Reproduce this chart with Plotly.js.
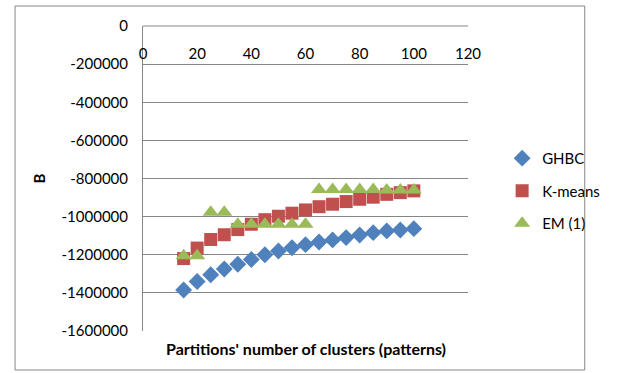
<!DOCTYPE html>
<html>
<head>
<meta charset="utf-8">
<script src="https://cdn.plot.ly/plotly-3.0.1.min.js"></script>
<style>
  html, body { margin: 0; padding: 0; background: #ffffff; }
  #chart { width: 617px; height: 373px; }
</style>
</head>
<body>
<div id="chart"></div>
<script>
// Number of clusters in each partition
const clusters = [15, 20, 25, 30, 35, 40, 45, 50, 55, 60, 65, 70, 75, 80, 85, 90, 95, 100];

// B index per method
const ghbc = [-1385000, -1340000, -1305000, -1275000, -1250000, -1225000, -1200000, -1180000, -1163000,
              -1147000, -1133000, -1122000, -1110000, -1096000, -1084000, -1075000, -1070000, -1063000];
const kmeans = [-1220000, -1165000, -1120000, -1095000, -1068000, -1040000, -1016000, -998000, -982000,
                -965000, -948000, -935000, -921000, -909000, -898000, -883000, -874000, -865000];
const em1 = [-1205000, -1205000, -977000, -977000, -1040000, -1040000, -1040000, -1040000, -1040000,
             -1040000, -858000, -858000, -858000, -858000, -858000, -860000, -860000, -860000];

const seriesNames = ['GHBC', 'K-means', 'EM (1)'];

// Axis ticks
const xTicks = [0, 20, 40, 60, 80, 100, 120];
const yTicks = [0, -200000, -400000, -600000, -800000, -1000000, -1200000, -1400000, -1600000];
const yTickText = yTicks.map(v => String(v));

const FONT = 'Lato, "Open Sans", "Liberation Sans", sans-serif';
const TICK_FONT = { family: FONT, size: 15, color: '#000000' };
const LINE_GREY = '#868686';

function series(name, ys, symbol, color, size, group) {
  return {
    type: 'scatter', mode: 'markers', name: name, x: clusters, y: ys,
    legendgroup: group,
    marker: { symbol: symbol, color: color, size: size, line: { width: 0 } },
    cliponaxis: false
  };
}

const data = [
  series(seriesNames[0], ghbc, 'diamond', '#4F81BD', 13, 'a'),
  series(seriesNames[1], kmeans, 'square', '#C0504D', 13, 'b'),
  series(seriesNames[2], em1, 'triangle-up', '#9BBB59', 14, 'c'),
  // invisible point that keeps the label-only x axis alive
  { type: 'scatter', mode: 'markers', x: [xTicks[0]], y: [yTicks[0]], xaxis: 'x2', yaxis: 'y',
    marker: { opacity: 0 }, showlegend: false, hoverinfo: 'skip' }
];

const layout = {
  width: 617, height: 373,
  margin: { l: 143, r: 126, t: 26, b: 42, pad: 0 },
  paper_bgcolor: '#ffffff', plot_bgcolor: '#ffffff',
  font: { family: FONT, size: 15, color: '#000000' },
  showlegend: true,
  legend: {
    x: 1.105, y: 0.62, xanchor: 'left', yanchor: 'top',
    traceorder: 'grouped', tracegroupgap: 10,
    font: { family: FONT, size: 15, color: '#000000' },
    itemwidth: 30, bgcolor: 'rgba(0,0,0,0)'
  },
  // main x axis: no labels, carries the data
  xaxis: {
    range: [0, 120], tickvals: xTicks, side: 'top',
    showticklabels: false, ticks: '',
    showgrid: false, zeroline: false, showline: false
  },
  // label-only x axis placed just under the top line
  xaxis2: {
    matches: 'x', overlaying: 'x', anchor: 'free', position: 0.943, side: 'bottom',
    tickvals: xTicks, ticks: '', showgrid: false, zeroline: false, showline: false,
    tickfont: TICK_FONT
  },
  yaxis: {
    range: [-1600000, 0], tickvals: yTicks, ticktext: yTickText,
    ticks: 'outside', ticklen: 11, tickcolor: 'rgba(0,0,0,0)',
    showgrid: true, gridcolor: LINE_GREY, gridwidth: 1,
    zeroline: false, showline: true, linecolor: LINE_GREY, linewidth: 1,
    tickfont: TICK_FONT,
    title: { text: '<b>B</b>', standoff: 12, font: { family: FONT, size: 15, color: '#000000' } }
  },
  annotations: [{
    xref: 'paper', yref: 'paper', x: 0.5, y: -0.02, xanchor: 'center', yanchor: 'top',
    showarrow: false, text: "<b>Partitions' number of clusters (patterns)</b>",
    font: { family: FONT, size: 16, color: '#000000' }
  }],
  shapes: [
    // horizontal axis line through B = 0, along the top of the plot
    { type: 'line', xref: 'paper', yref: 'paper', x0: 0, x1: 1, y0: 1, y1: 1,
      line: { color: LINE_GREY, width: 1 } },
    // chart frame
    { type: 'rect', xref: 'paper', yref: 'paper',
      x0: (6 - 143) / 348, x1: (616 - 143) / 348,
      y0: -(370 - 331) / 305, y1: 1 + (26 - 6) / 305,
      line: { color: LINE_GREY, width: 1 }, fillcolor: 'rgba(0,0,0,0)', layer: 'below' }
  ]
};

Plotly.newPlot('chart', data, layout, { displayModeBar: false, staticPlot: true });
</script>
</body>
</html>
